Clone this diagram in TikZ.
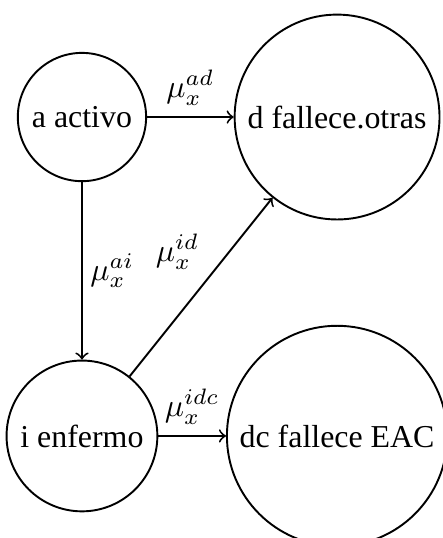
\documentclass[tikz,border=0pt]{standalone}
\usepackage{fontspec}
\setmainfont{Liberation Serif}
\begin{document}
\begin{tikzpicture}[
  state/.style={circle,draw,line width=0.6pt,inner sep=3.33pt},
  trans/.style={->,line width=0.6pt},
  lbl/.style={font=\normalsize}
]
\useasboundingbox (-25.7pt,-132pt) rectangle (112.9pt,36.7pt);
\node[state] (a) at (0,0) {a activo};
\node[state] (d) at (80pt,0) {d fallece.otras};
\node[state] (i) at (0,-100pt) {i enfermo};
\node[state] (dc) at (80pt,-100pt) {dc fallece EAC};
\draw[trans] (a) -- node[above] {$\mu_x^{ad}$} (d);
\draw[trans] (a) -- node[right, xshift=-1pt] {$\mu_x^{ai}$} (i);
\draw[trans] (i) -- node[above left, xshift=3pt, yshift=2pt] {$\mu_x^{id}$} (d);
\draw[trans] (i) -- node[above] {$\mu_x^{idc}$} (dc);
\end{tikzpicture}
\end{document}
